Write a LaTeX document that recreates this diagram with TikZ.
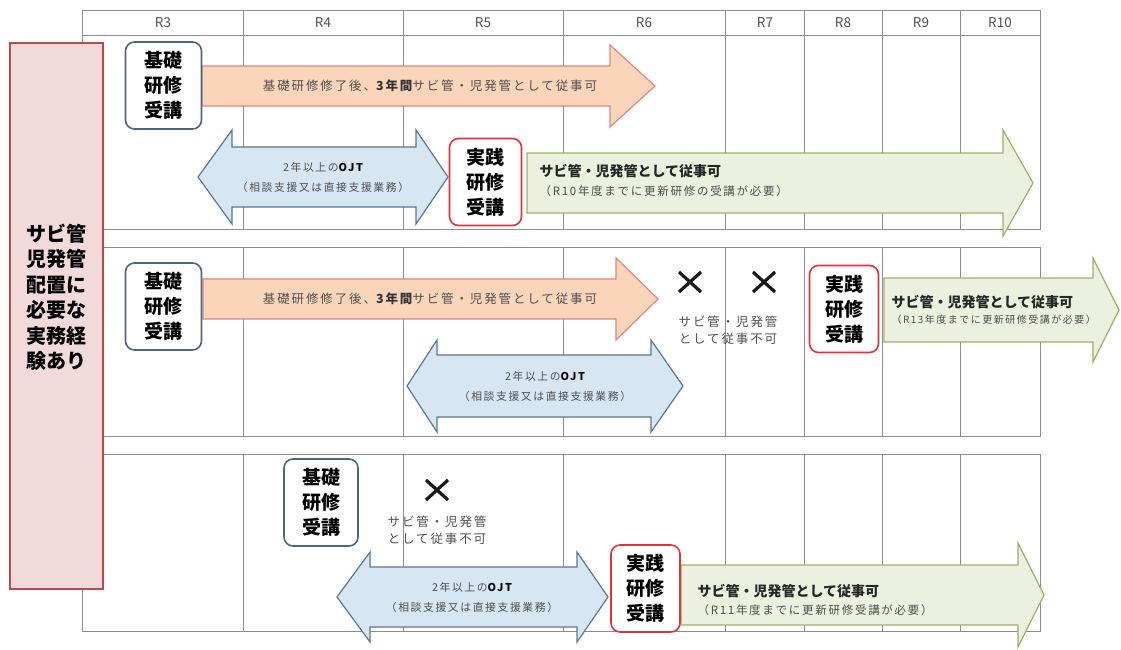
\documentclass[tikz,border=0pt]{standalone}
\usepackage{fontspec}
\setmainfont{Noto Sans CJK JP}
\newfontfamily\jpwide{Noto Sans CJK JP}[LetterSpace=15]
\usepackage{tikz}
\usetikzlibrary{positioning}

\definecolor{linegray}{HTML}{8C8C8C}
\definecolor{txtgray}{HTML}{505050}
\definecolor{orfill}{HTML}{FBD5B9}
\definecolor{ordraw}{HTML}{DE8680}
\definecolor{blfill}{HTML}{D6E6F2}
\definecolor{bldraw}{HTML}{5A7894}
\definecolor{grfill}{HTML}{EBF1DE}
\definecolor{grdraw}{HTML}{9DB266}
\definecolor{kisodraw}{HTML}{4F6580}
\definecolor{jissendraw}{HTML}{E2323C}
\definecolor{pinkfill}{HTML}{F2DADA}
\definecolor{pinkdraw}{HTML}{B84A4E}

\tikzset{
  tableline/.style={draw=linegray, line width=0.8pt},
  yearlbl/.style={text=txtgray, font=\fontsize{13.5}{13.5}\selectfont},
  kisobox/.style={draw=kisodraw, line width=1.6pt, rounded corners=9pt, fill=white,
    align=center, inner sep=0pt, minimum width=76pt, minimum height=87pt,
    font=\bfseries\fontsize{19}{25}\selectfont},
  jissenbox/.style={kisobox, draw=jissendraw, minimum width=72pt},
  orarrow/.style={fill=orfill, draw=ordraw, line width=1.2pt},
  blarrow/.style={fill=blfill, draw=bldraw, line width=1.2pt},
  grarrow/.style={fill=grfill, draw=grdraw, line width=1.2pt},
  ortext/.style={text=txtgray, font=\jpwide\fontsize{12.5}{12.5}\selectfont},
  bltext/.style={text=txtgray, align=center, font=\jpwide\fontsize{10.8}{20}\selectfont},
  grhead/.style={anchor=west, text=black!85, font=\bfseries\fontsize{14}{14}\selectfont},
  grnote/.style={anchor=west, text=txtgray, font=\jpwide\fontsize{11.5}{12}\selectfont},
  ngtext/.style={text=txtgray, align=center, font=\jpwide\fontsize{12.5}{17}\selectfont},
  xmark/.style={line width=3.2pt, draw=black!90}
}

\begin{document}
\begin{tikzpicture}[x=1pt,y=-1pt]
    \useasboundingbox (0,0) rectangle (1121,650);

    % table
    \draw[tableline, fill=white] (82,10) rectangle (1040,35);
    \draw[tableline] (82,35) rectangle (1040,229);
    \draw[tableline] (82,247) rectangle (1040,436);
    \draw[tableline] (82,454) rectangle (1040,631);
    \foreach \x in {243,403,563,725,804,882,960}
    {
        \draw[tableline] (\x,10) -- (\x,229);
        \draw[tableline] (\x,247) -- (\x,436);
        \draw[tableline] (\x,454) -- (\x,631);
    }
    \foreach \c/\n in {163/3,323/4,483/5,644/6,765/7,843/8,921/9,1000/10}
        \node[yearlbl] (year\n) at (\c,22.5) {R\n};

    % left label
    \draw[fill=pinkfill, draw=pinkdraw, line width=1.6pt] (10,43) rectangle (103,589);
    \node[align=center, font=\bfseries\fontsize{20}{25.5}\selectfont] (need) at (56,297)
        {サビ管\\児発管\\配置に\\必要な\\実務経\\験あり};

    % first row
    \draw[orarrow] (202,66) -- (610,66) -- (610,45) -- (655,86) -- (610,127) -- (610,106) -- (202,106) -- cycle;
    \draw[blarrow] (198,177) -- (232,130) -- (232,147) -- (416,147) -- (416,130) -- (448,177)
        -- (416,224) -- (416,207) -- (232,207) -- (232,224) -- cycle;
    \draw[grarrow] (527,153) -- (1003,153) -- (1003,130) -- (1033,183) -- (1003,236) -- (1003,213) -- (527,213) -- cycle;
    \node[kisobox] (kisoA) at (163.5,85.5) {基礎\\研修\\受講};
    \node[jissenbox] (jissenA) at (485.5,182) {実践\\研修\\受講};
    \node[ortext] (orA) at (430,86) {基礎研修修了後、{\color{black!80}\bfseries 3年間}サビ管・児発管として従事可};
    \node[bltext] (blA) at (323,177) {2年以上の{\color{black}\bfseries OJT}\\（相談支援又は直接支援業務）};
    \node[grhead] (grA) at (536,171) {サビ管・児発管として従事可};
    \node[grnote] (grAnote) at (536,191) {（R10年度までに更新研修の受講が必要）};

    % second row
    \draw[orarrow] (203,279) -- (616,279) -- (616,258) -- (658,299) -- (616,340) -- (616,319) -- (203,319) -- cycle;
    \draw[blarrow] (407,386) -- (437,340) -- (437,355) -- (651,355) -- (651,340) -- (683,386)
        -- (651,432) -- (651,417) -- (437,417) -- (437,432) -- cycle;
    \draw[grarrow] (884,278) -- (1093,278) -- (1093,258) -- (1119,310) -- (1093,362) -- (1093,342) -- (884,342) -- cycle;
    \node[kisobox] (kisoB) at (163.5,306.5) {基礎\\研修\\受講};
    \node[jissenbox, minimum width=69pt] (jissenB) at (844,309) {実践\\研修\\受講};
    \node[ortext] (orB) at (430,299) {基礎研修修了後、{\color{black!80}\bfseries 3年間}サビ管・児発管として従事可};
    \node[bltext] (blB) at (545,386) {2年以上の{\color{black}\bfseries OJT}\\（相談支援又は直接支援業務）};
    \node[grhead] (grB) at (888,302) {サビ管・児発管として従事可};
    \node[grnote, font=\jpwide\fontsize{10}{11}\selectfont] (grBnote) at (888,320) {（R13年度までに更新研修受講が必要）};
    \node[ngtext] (ngB) at (728,330) {サビ管・児発管\\として従事不可};

    % third row
    \draw[blarrow] (337,597) -- (370,552) -- (370,567) -- (577,567) -- (577,552) -- (608,597)
        -- (577,642) -- (577,627) -- (370,627) -- (370,642) -- cycle;
    \draw[grarrow] (681,565) -- (1018,565) -- (1018,543) -- (1044,595) -- (1018,647) -- (1018,625) -- (681,625) -- cycle;
    \node[kisobox, minimum width=74pt] (kisoC) at (321,502.5) {基礎\\研修\\受講};
    \node[jissenbox, minimum width=69pt] (jissenC) at (645.5,588.5) {実践\\研修\\受講};
    \node[bltext] (blC) at (472,597) {2年以上の{\color{black}\bfseries OJT}\\（相談支援又は直接支援業務）};
    \node[grhead] (grC) at (694,591) {サビ管・児発管として従事可};
    \node[grnote] (grCnote) at (694,610) {（R11年度までに更新研修受講が必要）};
    \node[ngtext] (ngC) at (437,530) {サビ管・児発管\\として従事不可};

    % not allowed marks
    \foreach \x/\y in {690/282,764/282,437/490}
        \draw[xmark] (\x-11,\y-10) -- (\x+11,\y+10) (\x-11,\y+10) -- (\x+11,\y-10);
\end{tikzpicture}
\end{document}
